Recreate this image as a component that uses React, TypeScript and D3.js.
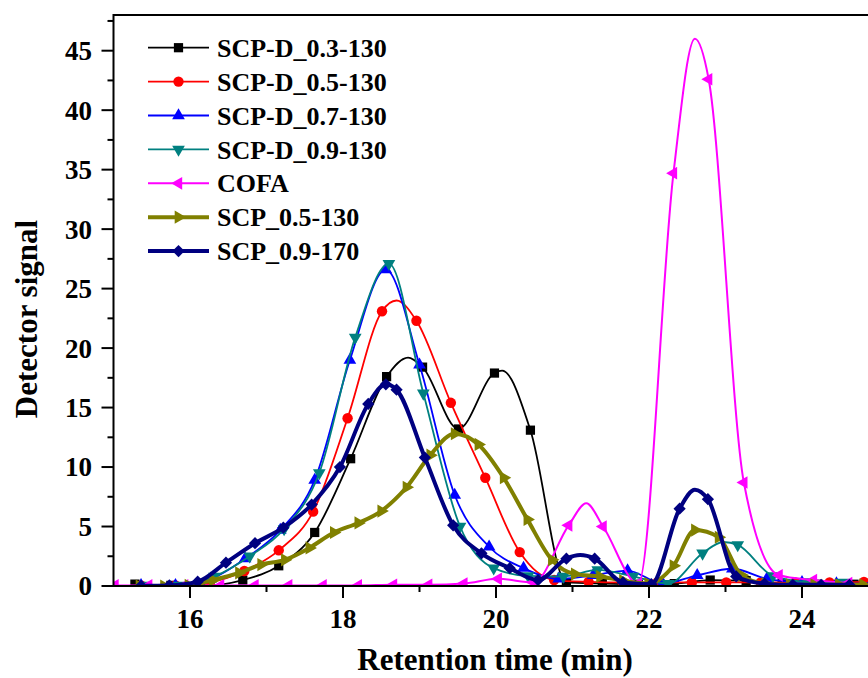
import React from 'react';
import * as d3 from 'd3';

const W = 868;
const H = 678;
const PLOT = { left: 113.5, right: 878.5, top: 15, bottom: 586 };

const xMajorTicks = [16, 18, 20, 22, 24];
const xMinorTicks = [17, 19, 21, 23];
const yMajorTicks = [0, 5, 10, 15, 20, 25, 30, 35, 40, 45];
const yMinorTicks = [2.5, 7.5, 12.5, 17.5, 22.5, 27.5, 32.5, 37.5, 42.5, 47.5];

const seriesNames = ['SCP-D_0.3-130', 'SCP-D_0.5-130', 'SCP-D_0.7-130', 'SCP-D_0.9-130', 'COFA', 'SCP_0.5-130', 'SCP_0.9-170'];

// [retention time, signal] – marked data points
const blackPts: [number, number][] = [[15.28,0.15],[15.75,0.05],[16.22,0.05],[16.69,0.5],[17.16,1.7],[17.63,4.5],[18.1,10.7],[18.57,17.6],[19.04,18.4],[19.51,13.2],[19.98,17.9],[20.45,13.1],[20.92,0.3],[21.39,0.2],[21.86,0.15],[22.33,0.2],[22.8,0.5],[23.27,0.45],[23.74,0.2],[24.21,0.15],[24.68,0.15]];
const blackPeaks: [number, number][] = [[18.85,19.2],[20.08,18.1]];

const redPts: [number, number][] = [[15.36,0.05],[15.81,0.05],[16.26,0.3],[16.71,1.26],[17.16,3.0],[17.61,6.25],[18.06,14.1],[18.51,23.1],[18.96,22.3],[19.41,15.4],[19.86,9.1],[20.31,2.85],[20.76,0.5],[21.21,0.35],[21.66,0.3],[22.11,0.3],[22.56,0.3],[23.01,0.3],[23.46,0.3],[23.91,0.3],[24.36,0.3],[24.81,0.35]];
const redPeaks: [number, number][] = [[18.7,24.0]];

const bluePts: [number, number][] = [[15.36,0.05],[15.81,0.05],[16.27,0.6],[16.72,2.3],[17.18,4.7],[17.63,8.9],[18.09,19.0],[18.56,26.6],[19.0,18.6],[19.46,7.65],[19.91,3.3],[20.36,1.5],[20.82,0.6],[21.27,0.9],[21.72,1.3],[22.18,0.2],[22.63,0.9],[23.09,1.45],[23.54,0.6],[24.0,0.3],[24.45,0.2],[24.9,0.2]];
const bluePeaks: [number, number][] = [];

const tealPts: [number, number][] = [[15.41,0.05],[15.86,0.05],[16.32,0.8],[16.78,2.5],[17.23,4.8],[17.69,9.5],[18.16,20.9],[18.6,27.1],[19.05,16.2],[19.53,5.0],[19.97,1.5],[20.42,0.85],[20.88,0.8],[21.33,1.35],[21.79,0.8],[22.25,0.2],[22.7,2.75],[23.16,3.45],[23.62,0.85],[24.07,0.35],[24.53,0.3]];
const tealPeaks: [number, number][] = [[22.97,3.7]];

const pinkPts: [number, number][] = [[15.02,0.05],[15.46,0.05],[15.93,0.05],[16.4,0.05],[16.85,0.05],[17.29,0.05],[17.74,0.05],[18.2,0.05],[18.66,0.1],[19.12,0.1],[19.58,0.2],[20.03,0.6],[20.49,0.3],[20.95,5.1],[21.4,5.0],[21.86,0.2],[22.32,34.7],[22.78,42.6],[23.24,8.7],[23.7,0.9],[24.15,0.5],[24.61,0.25]];
const pinkPeaks: [number, number][] = [[21.18,6.95],[22.6,46.0]];

const olivePts: [number, number][] = [[15.34,0],[15.66,0],[15.98,0.05],[16.3,0.5],[16.64,1.1],[16.93,1.8],[17.24,2.2],[17.56,3.2],[17.88,4.5],[18.2,5.3],[18.5,6.3],[18.83,8.3],[19.14,11.0],[19.46,12.8],[19.77,11.9],[20.1,9.1],[20.41,5.6],[20.73,2.2],[21.03,1.0],[21.36,0.8],[21.66,0.45],[21.99,0.2],[22.32,1.7],[22.6,4.7],[22.91,4.1],[23.21,0.9],[23.52,0.2],[23.84,0.1],[24.16,0.1],[24.48,0.1],[24.8,0.1]];
const olivePeaks: [number, number][] = [];

const navyPts: [number, number][] = [[15.36,0.02],[15.73,0.05],[16.1,0.36],[16.47,1.96],[16.85,3.6],[17.22,4.9],[17.59,6.85],[17.96,10.0],[18.33,15.3],[18.56,16.95],[18.7,16.5],[19.07,10.8],[19.44,5.1],[19.81,2.75],[20.18,1.5],[20.55,0.5],[20.92,2.3],[21.29,2.3],[21.66,0.3],[22.03,0.15],[22.4,6.5],[22.77,7.3],[23.14,0.8],[23.51,0.2],[23.88,0.1],[24.25,0.1],[24.62,0.1]];
const navyPeaks: [number, number][] = [[21.1,2.6],[22.6,8.1]];

const seriesColors = ['#000000', '#FF0000', '#0000FF', '#008080', '#FF00FF', '#808000', '#000080'];
const seriesWidths = [1.8, 1.8, 1.8, 1.8, 2, 4, 4];

type Sym = { type: d3.SymbolType; size: number; rotate: number };
const seriesSymbols: Sym[] = [
  { type: d3.symbolSquare, size: 85, rotate: 0 },
  { type: d3.symbolCircle, size: 85, rotate: 0 },
  { type: d3.symbolTriangle, size: 70, rotate: 0 },
  { type: d3.symbolTriangle, size: 70, rotate: 180 },
  { type: d3.symbolTriangle, size: 70, rotate: -90 },
  { type: d3.symbolTriangle, size: 75, rotate: 90 },
  { type: d3.symbolSquare, size: 75, rotate: 45 },
];

const seriesPts = [blackPts, redPts, bluePts, tealPts, pinkPts, olivePts, navyPts];
const seriesPeaks = [blackPeaks, redPeaks, bluePeaks, tealPeaks, pinkPeaks, olivePeaks, navyPeaks];

const FONT = '"Liberation Serif", "Times New Roman", serif';

export default function App() {
  const x = d3.scaleLinear().domain([15, 25]).range([PLOT.left, PLOT.right]);
  const y = d3.scaleLinear().domain([0, 48]).range([PLOT.bottom, PLOT.top]);
  const line = d3
    .line<[number, number]>()
    .x((d) => x(d[0]))
    .y((d) => y(d[1]))
    .curve(d3.curveMonotoneX);

  const symPath = (s: Sym) => d3.symbol().type(s.type).size(s.size)() as string;

  const legendX0 = 148;
  const legendX1 = 209;
  const legendY0 = 47.7;
  const legendDy = 33.9;

  return (
    <svg
      width={W}
      height={H}
      style={{ position: 'absolute', left: 0, top: 0, background: '#fff' }}
      fontFamily={FONT}
    >
      <defs>
        <clipPath id="plotClip">
          <rect x={PLOT.left} y={PLOT.top} width={PLOT.right - PLOT.left} height={PLOT.bottom - PLOT.top} />
        </clipPath>
      </defs>
      <rect x={0} y={0} width={W} height={H} fill="#fff" />

      <g clipPath="url(#plotClip)">
        {seriesPts.map((pts, i) => {
          const all = [...pts, ...seriesPeaks[i]].sort((a, b) => a[0] - b[0]);
          return (
            <g key={i}>
              <path d={line(all) || ''} fill="none" stroke={seriesColors[i]} strokeWidth={seriesWidths[i]} strokeLinejoin="round" />
              {pts.map((p, j) => (
                <path
                  key={j}
                  d={symPath(seriesSymbols[i])}
                  transform={`translate(${x(p[0])},${y(p[1])}) rotate(${seriesSymbols[i].rotate})`}
                  fill={seriesColors[i]}
                />
              ))}
            </g>
          );
        })}
      </g>

      {/* frame */}
      <line x1={PLOT.left} x2={W + 20} y1={PLOT.top} y2={PLOT.top} stroke="#000" strokeWidth={2} />
      <line x1={PLOT.right} x2={PLOT.right} y1={PLOT.top} y2={PLOT.bottom} stroke="#000" strokeWidth={2} />
      <line x1={PLOT.left} x2={PLOT.left} y1={PLOT.top - 1} y2={PLOT.bottom + 1} stroke="#000" strokeWidth={2} />
      <line x1={PLOT.left - 1} x2={W + 20} y1={PLOT.bottom} y2={PLOT.bottom} stroke="#000" strokeWidth={2} />

      {/* y ticks */}
      {yMajorTicks.map((t) => (
        <g key={'ym' + t}>
          <line x1={PLOT.left - 12} x2={PLOT.left} y1={y(t)} y2={y(t)} stroke="#000" strokeWidth={2} />
          <text x={92} y={y(t)} dy="0.35em" textAnchor="end" fontSize={27} fontWeight="bold">
            {t}
          </text>
        </g>
      ))}
      {yMinorTicks.map((t) => (
        <line key={'yn' + t} x1={PLOT.left - 6} x2={PLOT.left} y1={y(t)} y2={y(t)} stroke="#000" strokeWidth={2} />
      ))}

      {/* x ticks */}
      {xMajorTicks.map((t) => (
        <g key={'xm' + t}>
          <line x1={x(t)} x2={x(t)} y1={PLOT.bottom} y2={PLOT.bottom + 12} stroke="#000" strokeWidth={2} />
          <text x={x(t)} y={628} textAnchor="middle" fontSize={27} fontWeight="bold">
            {t}
          </text>
        </g>
      ))}
      {xMinorTicks.map((t) => (
        <line key={'xn' + t} x1={x(t)} x2={x(t)} y1={PLOT.bottom} y2={PLOT.bottom + 6} stroke="#000" strokeWidth={2} />
      ))}

      {/* axis titles */}
      <text x={495} y={670} textAnchor="middle" fontSize={31} fontWeight="bold">
        Retention time (min)
      </text>
      <text transform={`translate(37,319) rotate(-90)`} textAnchor="middle" fontSize={31} fontWeight="bold">
        Detector signal
      </text>

      {/* legend */}
      {seriesNames.map((name, i) => {
        const ly = legendY0 + i * legendDy;
        const s = seriesSymbols[i];
        return (
          <g key={'lg' + i}>
            <line x1={legendX0} x2={legendX1} y1={ly} y2={ly} stroke={seriesColors[i]} strokeWidth={seriesWidths[i]} />
            <path d={symPath(s)} transform={`translate(${(legendX0 + legendX1) / 2},${ly}) rotate(${s.rotate})`} fill={seriesColors[i]} />
            <text x={217} y={ly} dy="0.35em" fontSize={26} fontWeight="bold">
              {name}
            </text>
          </g>
        );
      })}
    </svg>
  );
}
